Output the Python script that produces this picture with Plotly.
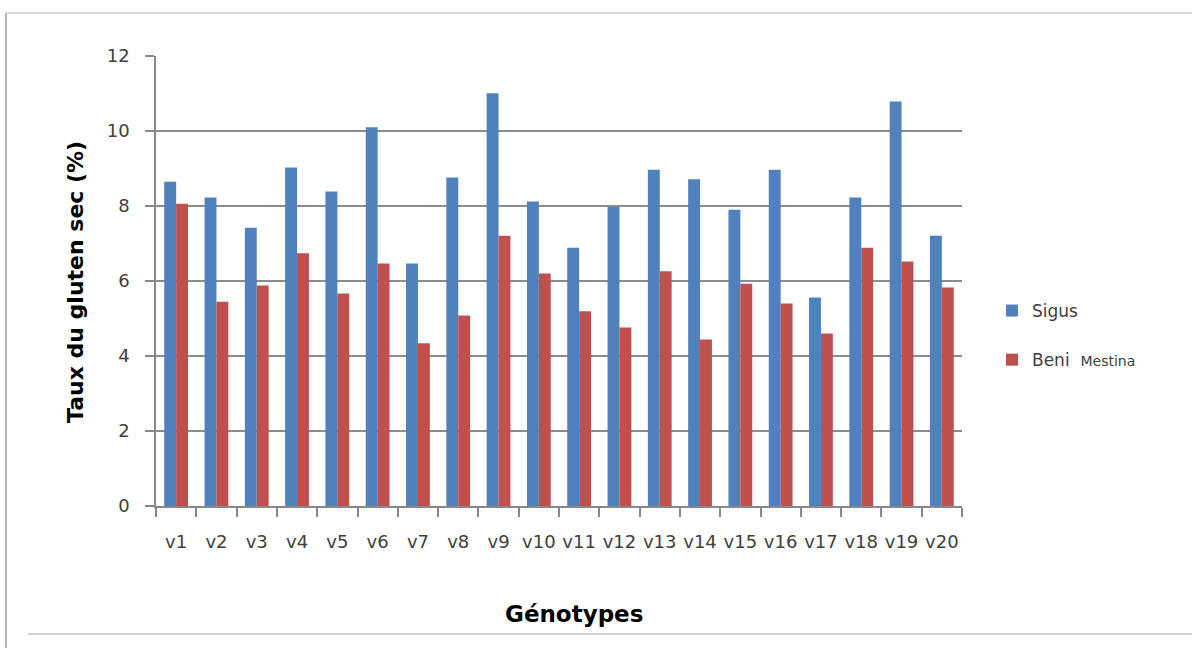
import plotly.graph_objects as go

genotypes = ["v1", "v2", "v3", "v4", "v5", "v6", "v7", "v8", "v9", "v10",
             "v11", "v12", "v13", "v14", "v15", "v16", "v17", "v18", "v19", "v20"]
sigus = [8.65, 8.23, 7.42, 9.03, 8.39, 10.10, 6.47, 8.76, 11.01, 8.12,
         6.89, 7.98, 8.97, 8.71, 7.90, 8.97, 5.56, 8.23, 10.79, 7.21]
beni_mestina = [8.06, 5.45, 5.88, 6.74, 5.67, 6.47, 4.34, 5.08, 7.21, 6.20,
                5.19, 4.76, 6.26, 4.44, 5.93, 5.40, 4.60, 6.89, 6.52, 5.83]
y_ticks = [0, 2, 4, 6, 8, 10, 12]

W, H = 1192, 648
L, R, T, B = 156, 962, 56, 506

def px(x):
    return (x - L) / (R - L)

def py(y):
    return (B - y) / (B - T)

fig = go.Figure()
fig.add_trace(go.Bar(x=genotypes, y=sigus, name="Sigus", marker_color="#4F81BD",
                     marker_line_width=0, legendgroup="a"))
fig.add_trace(go.Bar(x=genotypes, y=beni_mestina,
                     name="Beni  <span style='font-size:14px;font-family:DejaVu Sans'>Mestina</span>",
                     marker_color="#C0504D", marker_line_width=0, legendgroup="b"))

fig.update_layout(
    width=W, height=H,
    margin=dict(l=L, r=W - R, t=T, b=H - B, pad=0),
    paper_bgcolor="white", plot_bgcolor="white",
    barmode="group", bargap=0.41, bargroupgap=0,
    font=dict(family="DejaVu Sans", size=16, color="#404040"),
    showlegend=True,
    legend=dict(x=px(992), y=py(293), xanchor="left", yanchor="top",
                font=dict(size=17, color="#404040"), tracegroupgap=24,
                bgcolor="rgba(0,0,0,0)", itemwidth=30),
    xaxis=dict(type="category", showgrid=False, showline=True, linecolor="#888888",
               linewidth=1.5, ticks="outside", ticklen=9, tickcolor="#888888",
               tickwidth=1.5, tickson="boundaries", ticklabelstandoff=19,
               tickangle=0,
               tickfont=dict(size=18, color="#404040"), range=[-0.5, 19.5]),
    yaxis=dict(range=[0, 12], tickvals=y_ticks, showgrid=True, gridcolor="#8C8C8C",
               gridwidth=1.5, showline=True, linecolor="#888888", linewidth=1.5,
               ticks="outside", ticklen=9, tickcolor="#888888", tickwidth=1.5,
               ticklabelstandoff=12, zeroline=False,
               tickfont=dict(size=18, color="#404040")),
    annotations=[
        dict(text="<b>Taux du gluten sec (%)</b>", x=px(75), y=py(282), xref="paper",
             yref="paper", showarrow=False, textangle=-90,
             font=dict(family="DejaVu Sans", size=22, color="#000000"),
             xanchor="center", yanchor="middle"),
        dict(text="<b>Génotypes</b>", x=px(574), y=py(614), xref="paper", yref="paper",
             showarrow=False, font=dict(family="DejaVu Sans", size=23, color="#000000"),
             xanchor="center", yanchor="middle"),
    ],
    shapes=[
        dict(type="line", xref="paper", yref="paper", x0=px(6), x1=px(1192),
             y0=py(13), y1=py(13), line=dict(color="#C8C8C8", width=1.5)),
        dict(type="line", xref="paper", yref="paper", x0=px(6), x1=px(6),
             y0=py(13), y1=py(648), line=dict(color="#B8B8B8", width=2)),
        dict(type="line", xref="paper", yref="paper", x0=px(28), x1=px(1192),
             y0=py(634), y1=py(634), line=dict(color="#C0C0C0", width=1.5)),
    ],
)

fig.write_html("out.html")
